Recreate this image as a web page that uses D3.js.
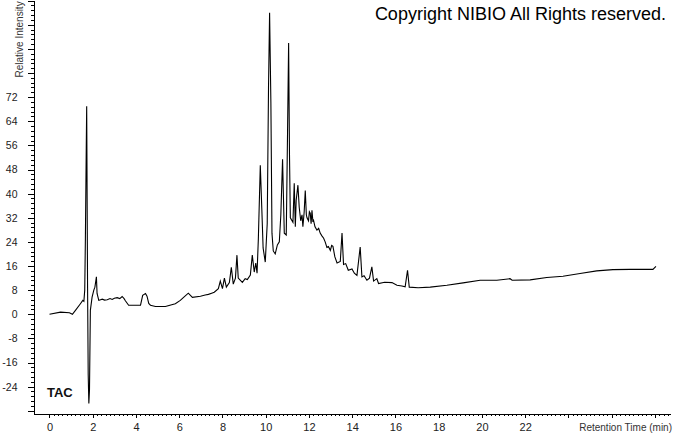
<!DOCTYPE html>
<html>
<head>
<meta charset="utf-8">
<script src="https://cdn.jsdelivr.net/npm/d3@7"></script>
<style>
  body { margin: 0; background: #fff; }
  svg { display: block; }
  .axis text { font-family: "Liberation Sans", Arial, sans-serif; fill: #222; }
  .axis path, .axis line { stroke: #000; shape-rendering: crispEdges; }
</style>
</head>
<body>
<div id="chart"></div>
<script>
// retention time (min) and relative intensity
var times = [0, 0.51, 0.92, 1.06, 1.20, 1.43, 1.54, 1.59, 1.63, 1.66, 1.70, 1.72, 1.76, 1.79, 1.82, 1.85, 1.89,
  1.97, 2.05, 2.10, 2.17, 2.20, 2.28, 2.44, 2.55, 2.67, 2.80, 2.90, 3.00, 3.13, 3.25, 3.36, 3.45, 3.51, 3.66,
  3.97, 4.21, 4.31, 4.44, 4.51, 4.59, 4.67, 4.90, 5.36, 5.82, 6.05, 6.19, 6.42, 6.61, 6.98, 7.20, 7.35, 7.50,
  7.62, 7.81, 7.90, 8.00, 8.09, 8.18, 8.32, 8.41, 8.50, 8.60, 8.67, 8.73, 8.92, 9.05, 9.15, 9.29, 9.38, 9.47,
  9.54, 9.60, 9.66, 9.75, 9.82, 9.88, 9.98, 10.07, 10.13, 10.18, 10.24, 10.29, 10.35, 10.44, 10.54, 10.63,
  10.70, 10.78, 10.86, 10.95, 11.01, 11.06, 11.10, 11.14, 11.26, 11.32, 11.37, 11.41, 11.49, 11.55, 11.62,
  11.68, 11.72, 11.78, 11.83, 11.88, 11.91, 11.98, 12.02, 12.06, 12.10, 12.14, 12.18, 12.21, 12.28, 12.37,
  12.45, 12.52, 12.60, 12.68, 12.75, 12.83, 12.90, 12.99, 13.05, 13.11, 13.20, 13.30, 13.45, 13.53, 13.60,
  13.70, 13.82, 13.99, 14.10, 14.22, 14.37, 14.45, 14.55, 14.68, 14.80, 14.91, 14.99, 15.14, 15.22, 15.50,
  15.84, 16.07, 16.30, 16.45, 16.56, 16.64, 17.05, 17.61, 18.38, 19.13, 19.92, 20.69, 21.30, 21.40, 22.23,
  23.00, 23.75, 24.54, 25.31, 26.06, 26.85, 27.91, 28.05];
var intensity = [0, 0.7, 0.5, 0, 1.3, 3.5, 4.6, 4.3, 8, 25, 55, 69, 10, -20, -29.6, -25, 1.3,
  5.7, 8, 9, 12.4, 6.9, 4.6, 5.0, 4.7, 4.8, 5.2, 4.9, 5.3, 5.5, 5.2, 5.9, 5.2, 4.5, 3.0,
  3.0, 3.0, 6.3, 6.9, 6.0, 3.6, 3.0, 2.6, 2.6, 3.5, 4.6, 5.5, 7.0, 5.6, 6.0, 6.4, 6.6, 7.0,
  7.3, 8.5, 11, 8.5, 12, 9, 10.5, 15.6, 10, 12, 19.6, 12, 10.6, 11.8, 11.5, 13, 19.6, 14,
  17, 13.6, 25, 49.4, 35, 22, 17.3, 30, 75, 100, 70, 26.9, 21, 20, 23, 24,
  33, 51.4, 26.9, 26.3, 60, 89.9, 53, 32, 30.5, 43.4, 29, 37.8, 42.8, 35.5, 31,
  33, 29, 34, 41, 33, 32, 31, 34, 33.5, 30, 34.5, 31, 31.2, 29, 27.9,
  28.5, 26.9, 26, 25.2, 24, 22.2, 22.5, 21.2, 22.8, 22.5, 19, 17, 17.5, 26.9, 16.5,
  16.8, 14.6, 15, 13.6, 12.9, 22.3, 12.4, 12.8, 11.3, 12.0, 15.7, 11, 11.8, 10.2, 10.6,
  10.5, 9.6, 9.4, 9.1, 14.6, 9, 8.8, 9.0, 9.6, 10.4, 11.3, 11.3, 11.8, 11.3, 11.4,
  12.2, 12.6, 13.5, 14.4, 14.8, 14.9, 14.9, 15.9];

var xTickLabels = [0, 2, 4, 6, 8, 10, 12, 14, 16, 18, 20, 22];
var yTickLabels = [-24, -16, -8, 0, 8, 16, 24, 32, 40, 48, 56, 64, 72];

var width = 673, height = 433;

var svg = d3.select("#chart").append("svg")
  .attr("width", width)
  .attr("height", height);

// scales
var x = d3.scaleLinear()
  .domain([-0.74, 28.7])
  .range([33.5, 670]);

var y = d3.scaleLinear()
  .domain([-32.9, 104.2])
  .range([413.5, 0]);

// minor tick positions
var xMinor = d3.range(0, 28.61, 0.2).filter(function(d){ return Math.abs(d / 2 - Math.round(d / 2)) > 0.01; });
var yMinor = d3.range(-32, 104.1, 1.6).filter(function(d){ return Math.abs(d / 8 - Math.round(d / 8)) > 0.01; });

// x axis
svg.append("g")
  .attr("class", "axis")
  .attr("transform", "translate(0,413.5)")
  .call(d3.axisBottom(x).tickValues(xMinor).tickSize(2).tickSizeOuter(0).tickFormat(""));

svg.append("g")
  .attr("class", "axis")
  .attr("transform", "translate(0,413.5)")
  .call(d3.axisBottom(x).tickValues(d3.range(0, 28.1, 2)).tickSize(4).tickPadding(6).tickFormat(function(d){
    return xTickLabels.indexOf(d) >= 0 ? d : "";
  }))
  .call(function(g){ g.select(".domain").remove(); })
  .selectAll("text")
  .style("font-size", "11px");

// y axis
svg.append("g")
  .attr("class", "axis")
  .attr("transform", "translate(33.5,0)")
  .call(d3.axisLeft(y).tickValues(yMinor).tickSize(3).tickSizeOuter(0).tickFormat(""));

svg.append("g")
  .attr("class", "axis")
  .attr("transform", "translate(33.5,0)")
  .call(d3.axisLeft(y).tickValues(d3.range(-32, 104.1, 8)).tickSize(6).tickPadding(10).tickFormat(function(d){
    return yTickLabels.indexOf(d) >= 0 ? d : "";
  }))
  .call(function(g){ g.select(".domain").remove(); })
  .selectAll("text")
  .style("font-size", "10.5px");

// axis titles
svg.append("text")
  .attr("transform", "translate(23,77.5) rotate(-90)")
  .style("font-family", "Liberation Sans, Arial, sans-serif")
  .style("font-size", "10px")
  .style("fill", "#333")
  .text("Relative Intensity");

svg.append("text")
  .attr("x", 672)
  .attr("y", 431)
  .attr("text-anchor", "end")
  .style("font-family", "Liberation Sans, Arial, sans-serif")
  .style("font-size", "10px")
  .style("fill", "#333")
  .text("Retention Time (min)");

// chromatogram trace
var points = times.map(function(t, i){ return [t, intensity[i]]; });

var line = d3.line()
  .x(function(d){ return x(d[0]); })
  .y(function(d){ return y(d[1]); });

svg.append("path")
  .datum(points)
  .attr("d", line)
  .attr("fill", "none")
  .attr("stroke", "#000")
  .attr("stroke-width", 1.1)
  .attr("stroke-linejoin", "miter");

// labels
svg.append("text")
  .attr("x", 47)
  .attr("y", 397)
  .style("font-family", "Liberation Sans, Arial, sans-serif")
  .style("font-weight", "bold")
  .style("font-size", "13px")
  .style("fill", "#111")
  .text("TAC");

svg.append("text")
  .attr("x", 666)
  .attr("y", 20)
  .attr("text-anchor", "end")
  .style("font-family", "Liberation Sans, Arial, sans-serif")
  .style("font-size", "18px")
  .style("fill", "#000")
  .text("Copyright NIBIO All Rights reserved.");
</script>
</body>
</html>
